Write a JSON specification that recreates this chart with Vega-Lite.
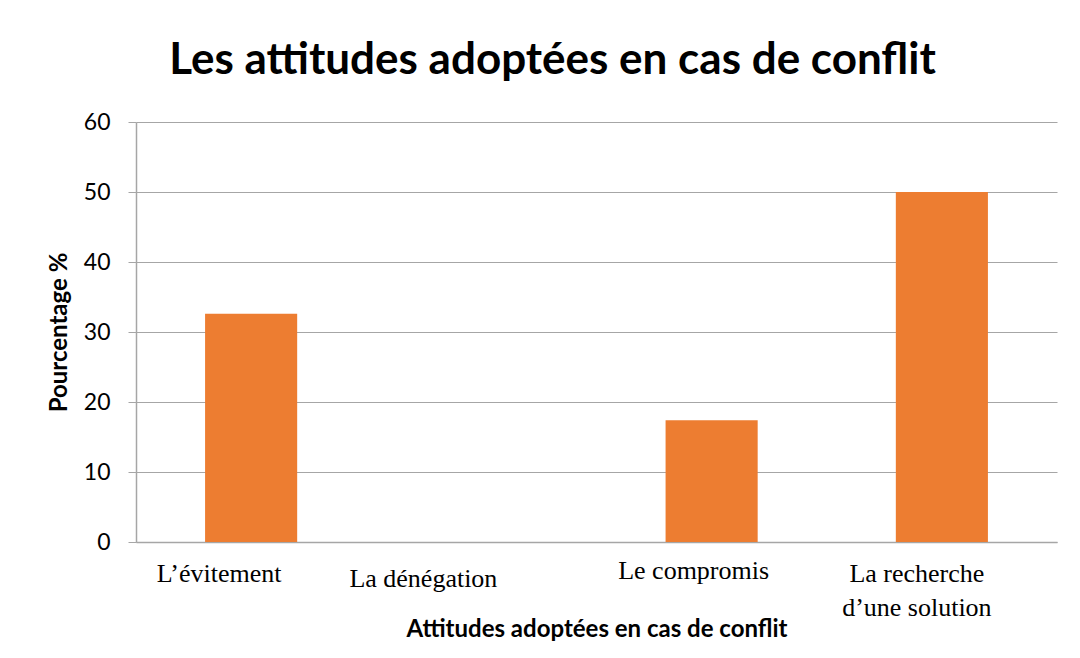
{
  "$schema": "https://vega.github.io/schema/vega-lite/v6.json",
  "width": 921,
  "height": 420,
  "autosize": {"type": "none"},
  "padding": {"left": 136, "top": 122, "right": 23, "bottom": 116},
  "background": "white",
  "title": {
    "text": "Les attitudes adoptées en cas de conflit",
    "font": "Lato",
    "fontSize": 44,
    "fontWeight": "bold",
    "color": "#000000",
    "anchor": "middle",
    "dx": -44,
    "offset": 28
  },
  "data": {
    "values": [
      {"attitude": "L’évitement", "pourcentage": 32.6},
      {"attitude": "La dénégation", "pourcentage": 0},
      {"attitude": "Le compromis", "pourcentage": 17.4},
      {"attitude": "La recherche d’une solution", "pourcentage": 50}
    ]
  },
  "mark": {"type": "bar", "color": "#ED7D31"},
  "encoding": {
    "x": {
      "field": "attitude",
      "type": "nominal",
      "sort": null,
      "scale": {"paddingInner": 0.6, "paddingOuter": 0.3},
      "axis": {
        "title": "Attitudes adoptées en cas de conflit",
        "titleFont": "Lato",
        "titleFontSize": 24,
        "titleFontWeight": "bold",
        "titleColor": "#000000",
        "titlePadding": -3,
        "labelAngle": 0,
        "labelFont": "Liberation Serif",
        "labelFontSize": 26,
        "labelLineHeight": 34,
        "labelColor": "#000000",
        "labelExpr": "datum.label == 'La recherche d’une solution' ? ['La recherche', 'd’une solution'] : datum.label",
        "labelOffset": {"expr": "datum.value == 'L’évitement' ? -32 : datum.value == 'La dénégation' ? -58 : datum.value == 'Le compromis' ? -18 : -25"},
        "labelPadding": {"expr": "datum.value == 'La dénégation' ? 23 : datum.value == 'Le compromis' ? 15 : 18"},
        "ticks": false,
        "domainColor": "#a6a6a6",
        "domainWidth": 1.5
      }
    },
    "y": {
      "field": "pourcentage",
      "type": "quantitative",
      "scale": {"domain": [0, 60]},
      "axis": {
        "title": "Pourcentage %",
        "titleFont": "Lato",
        "titleFontSize": 24,
        "titleFontWeight": "bold",
        "titleColor": "#000000",
        "titlePadding": 12,
        "values": [0, 10, 20, 30, 40, 50, 60],
        "labelFont": "Lato",
        "labelFontSize": 23,
        "labelColor": "#000000",
        "labelPadding": 18,
        "tickSize": 8,
        "tickColor": "#a6a6a6",
        "domainColor": "#a6a6a6",
        "domainWidth": 1.5,
        "gridColor": "#a6a6a6",
        "gridWidth": 1.2
      }
    }
  },
  "config": {"view": {"stroke": null}}
}
